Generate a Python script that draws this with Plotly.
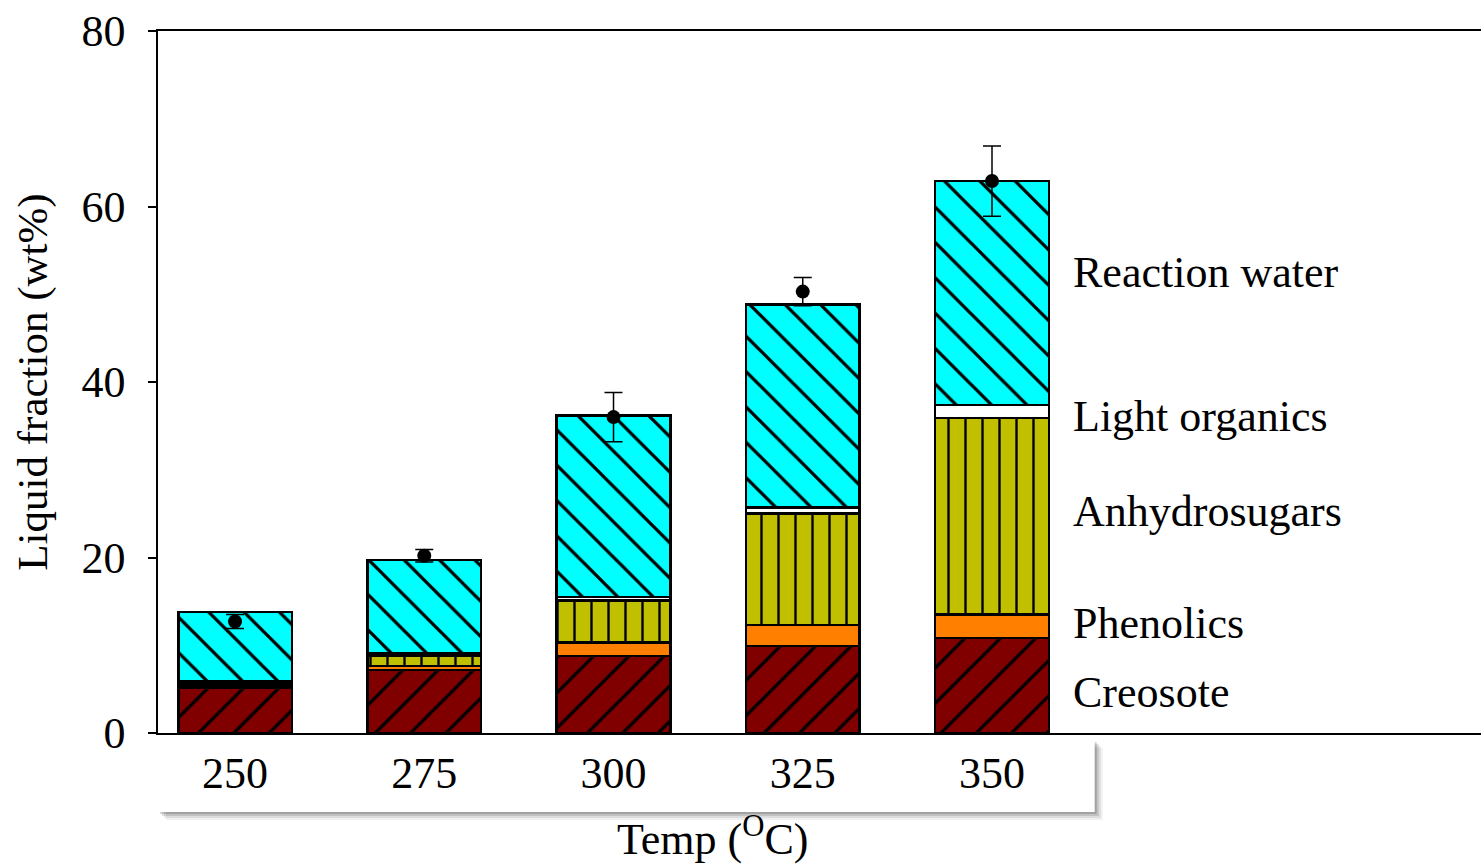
import plotly.graph_objects as go

# ---------------- data ----------------
temps = ["250", "275", "300", "325", "350"]
creosote = [5.15, 7.2, 8.8, 9.9, 10.8]
phenolics = [0.25, 0.45, 1.5, 2.4, 2.7]
anhydrosugars = [0.3, 1.2, 4.8, 12.7, 22.4]
light_organics = [0.2, 0.27, 0.4, 0.7, 1.5]
reaction_water = [7.9, 10.6, 20.7, 23.15, 25.5]
total_mean = [12.7, 20.2, 36.0, 50.3, 62.9]
total_err = [0.8, 0.7, 2.8, 1.6, 4.0]
series_names = ["Creosote", "Phenolics", "Anhydrosugars", "Light organics", "Reaction water"]
y_ticks = [0, 20, 40, 60, 80]

FONT = "Liberation Serif"
xpos = list(range(len(temps)))

styles = [
    dict(color="#800000", shape="/", size=25, sol=0.13),
    dict(color="#FF8000", shape="", size=10, sol=0.2),
    dict(color="#C0C000", shape="|", size=17, sol=0.14),
    dict(color="#FFFFFF", shape="", size=10, sol=0.2),
    dict(color="#00FFFF", shape="\\", size=25, sol=0.13),
]
values = [creosote, phenolics, anhydrosugars, light_organics, reaction_water]

fig = go.Figure()
for name, vals, st in zip(series_names, values, styles):
    fig.add_trace(go.Bar(
        x=xpos, y=vals, name=name, width=0.6,
        marker=dict(
            color=st["color"],
            line=dict(color="black", width=2.5),
            pattern=dict(shape=st["shape"], fgcolor="black", fgopacity=1, size=st["size"],
                         solidity=st["sol"], fillmode="overlay"),
        ),
        showlegend=False,
    ))

fig.add_trace(go.Scatter(
    x=xpos, y=total_mean, mode="markers",
    marker=dict(color="black", size=14),
    error_y=dict(type="data", array=total_err, color="black", thickness=1.5, width=9),
    showlegend=False,
))

# right-hand labels
label_y = [4.6, 12.5, 25.2, 36.1, 52.5]
for name, yv in zip(series_names, label_y):
    fig.add_annotation(x=4.42, y=yv, xref="x", yref="y", text=name, showarrow=False,
                       xanchor="left", yanchor="middle",
                       font=dict(family=FONT, size=44, color="black"))

# x label box with shadow
for off, op in [(8, 0.06), (6, 0.08), (4, 0.12), (2, 0.16)]:
    fig.add_shape(type="rect", xref="paper", yref="paper",
                  x0=0.0 + off / 1323, x1=0.708 + off / 1323,
                  y0=-0.1125 - off / 702, y1=-0.0100 - off / 702,
                  fillcolor="black", opacity=op, line=dict(width=0), layer="below")
fig.add_shape(type="rect", xref="paper", yref="paper", x0=0.0, x1=0.708,
              y0=-0.1125, y1=-0.0100, fillcolor="white", line=dict(width=0), layer="below")

fig.add_annotation(x=0.4195, y=-0.148, xref="paper", yref="paper",
                   text="Temp (<sup>O</sup>C)", showarrow=False,
                   xanchor="center", yanchor="middle",
                   font=dict(family=FONT, size=44, color="black"))

fig.update_layout(
    width=1481, height=864,
    margin=dict(l=158, r=0, t=31, b=131),
    barmode="stack",
    paper_bgcolor="white", plot_bgcolor="white",
    font=dict(family=FONT, color="black"),
)
fig.update_xaxes(
    range=[-0.407, 6.584], tickvals=xpos, ticktext=temps, ticks="",
    tickfont=dict(family=FONT, size=44, color="black"),
    ticklabelstandoff=0,
    showline=True, linecolor="black", linewidth=1.5, mirror=True,
    showgrid=False, zeroline=False,
)
fig.update_yaxes(
    range=[0, 80], tickvals=y_ticks, ticks="outside", ticklen=8, tickwidth=1.5,
    tickcolor="black",
    tickfont=dict(family=FONT, size=44, color="black"),
    ticklabelstandoff=14,
    showline=True, linecolor="black", linewidth=1.5, mirror=False,
    showgrid=False, zeroline=False,
    title=dict(text="Liquid fraction (wt%)", font=dict(family=FONT, size=43, color="black"),
               standoff=20),
)

fig.write_html("out.html")
